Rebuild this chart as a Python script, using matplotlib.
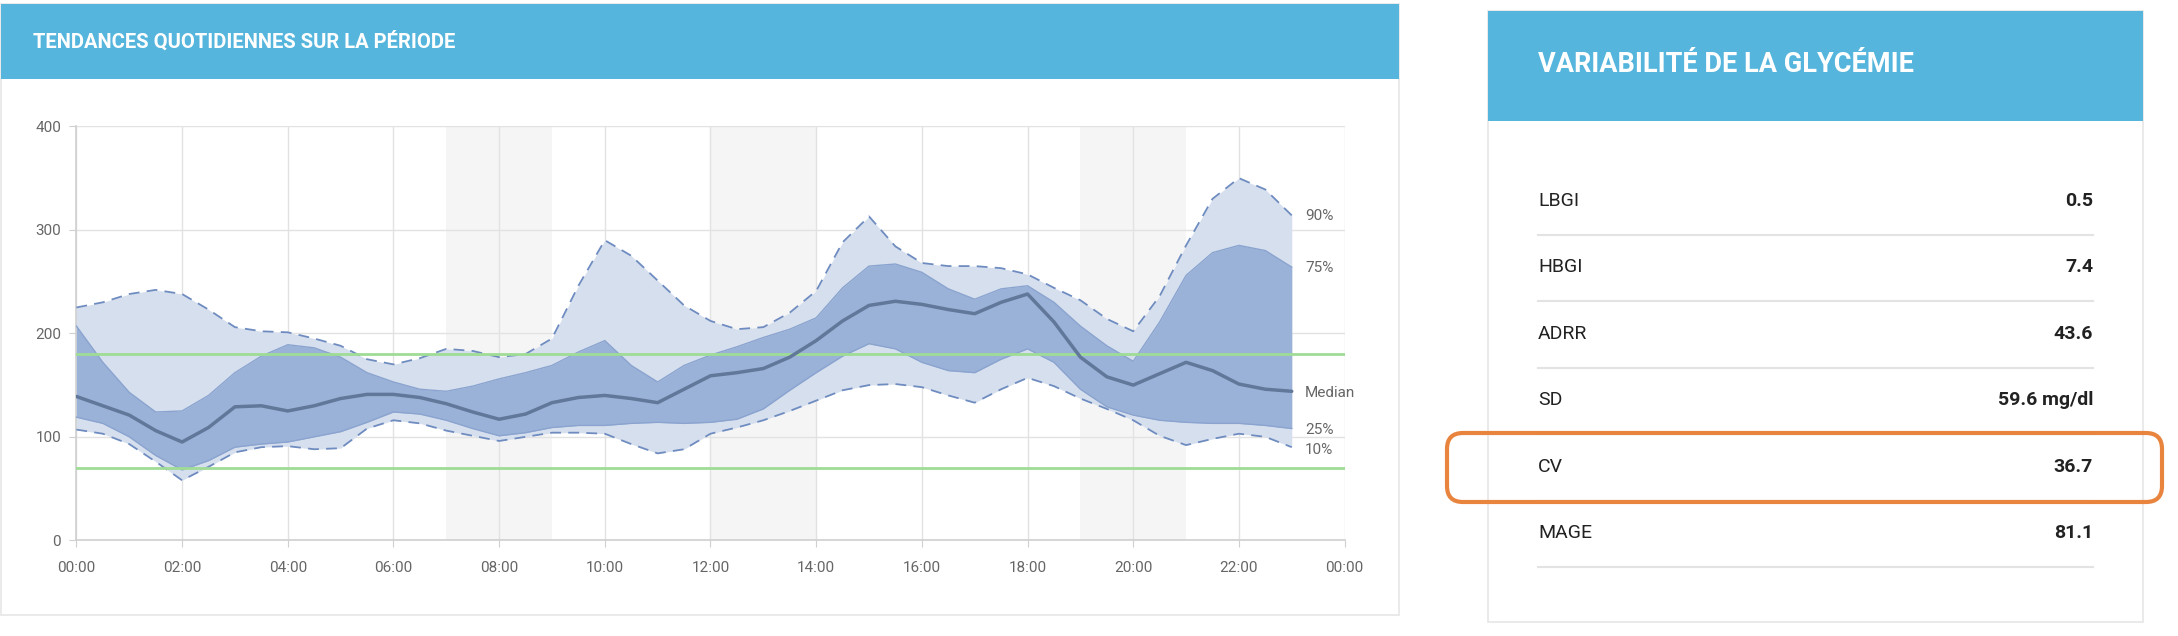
import numpy as np
import matplotlib.pyplot as plt
from matplotlib.patches import Rectangle, FancyBboxPatch

plt.rcParams['font.family'] = ['Roboto', 'DejaVu Sans']

# heures (toutes les 30 min, 00:00 -> 23:00)
heures = np.arange(0, 23.5, 0.5)

p90 = [225, 230, 238, 242, 238, 223, 206, 202, 201, 195, 188, 175, 170, 176, 185, 183,
       177, 180, 195, 246, 290, 275, 251, 227, 212, 204, 206, 220, 241, 288, 313, 284,
       268, 265, 265, 263, 257, 244, 232, 214, 202, 236, 285, 330, 350, 339, 314]
p75 = [207, 172, 143, 124, 125, 140, 162, 178, 189, 186, 177, 162, 153, 146, 144, 149,
       156, 162, 169, 182, 193, 169, 153, 169, 179, 187, 196, 204, 215, 244, 265, 267,
       259, 243, 233, 243, 246, 230, 207, 188, 173, 211, 256, 278, 285, 280, 264]
mediane = [139, 130, 121, 106, 95, 109, 129, 130, 125, 130, 137, 141, 141, 138, 132, 124,
           117, 122, 133, 138, 140, 137, 133, 146, 159, 162, 166, 177, 193, 212, 227, 231,
           228, 223, 219, 230, 238, 211, 177, 158, 150, 161, 172, 164, 151, 146, 144]
p25 = [119, 113, 100, 82, 68, 77, 90, 93, 95, 100, 105, 114, 124, 122, 116, 108,
       101, 104, 109, 111, 111, 113, 114, 113, 114, 117, 127, 145, 162, 178, 190, 185,
       172, 164, 162, 175, 185, 172, 146, 129, 121, 116, 114, 113, 113, 111, 108]
p10 = [107, 103, 93, 76, 58, 71, 85, 90, 91, 88, 89, 108, 116, 113, 106, 101,
       96, 100, 104, 104, 103, 93, 84, 88, 103, 109, 116, 125, 135, 145, 150, 151,
       148, 140, 133, 146, 157, 149, 137, 127, 116, 101, 92, 98, 103, 100, 90]

zones_grises = [(7, 9), (12, 14), (19, 21)]
cible_basse = 70
cible_haute = 180

xticks = list(range(0, 25, 2))
xlabels = ["%02d:00" % (h % 24) for h in xticks]
yticks = [0, 100, 200, 300, 400]

etiquettes = ["90%", "75%", "Median", "25%", "10%"]
etiq_y = [313, 263, 142, 107, 87]

indicateurs = ["LBGI", "HBGI", "ADRR", "SD", "CV", "MAGE"]
valeurs = ["0.5", "7.4", "43.6", "59.6 mg/dl", "36.7", "81.1"]

W, H = 2178, 636
fig = plt.figure(figsize=(W / 100, H / 100), dpi=100)

# fond en pixels
bg = fig.add_axes([0, 0, 1, 1])
bg.set_xlim(0, W)
bg.set_ylim(H, 0)
bg.axis('off')

bleu = '#55b5dc'
bord = '#e6e6e6'

# carte gauche
bg.add_patch(Rectangle((1, 4), 1398, 611, facecolor='white', edgecolor=bord, lw=1.2))
bg.add_patch(Rectangle((1, 4), 1398, 75, facecolor=bleu, edgecolor='none'))
bg.text(33, 41, "TENDANCES QUOTIDIENNES SUR LA PÉRIODE", color='white',
        fontsize=14.5, fontweight='bold', va='center', ha='left')

# carte droite
bg.add_patch(Rectangle((1488, 11), 655, 611, facecolor='white', edgecolor=bord, lw=1.2))
bg.add_patch(Rectangle((1488, 11), 655, 110, facecolor=bleu, edgecolor='none'))
bg.text(1538, 65, "VARIABILITÉ DE LA GLYCÉMIE", color='white',
        fontsize=19.5, fontweight='bold', va='center', ha='left')

y0 = 201
dy = 66.4
for i, (nom, val) in enumerate(zip(indicateurs, valeurs)):
    yy = y0 + i * dy
    bg.text(1538, yy, nom, fontsize=14, color='#222222', va='center', ha='left')
    bg.text(2093, yy, val, fontsize=14, color='#222222', fontweight='bold',
            va='center', ha='right')
    bg.plot([1538, 2093], [yy + 34, yy + 34], color='#e3e3e3', lw=1.5)

# cadre orange autour de CV
bg.add_patch(FancyBboxPatch((1447, 433), 715, 69,
                            boxstyle="round,pad=0,rounding_size=16",
                            facecolor='none', edgecolor='#e8843e', lw=3, zorder=5))

# graphique
ax = fig.add_axes([76.4 / W, 1 - 540.3 / H, 1268.2 / W, 413.9 / H])
ax.set_xlim(0, 24)
ax.set_ylim(0, 400)

for a, b in zones_grises:
    ax.axvspan(a, b, color='#f5f5f5', zorder=0, lw=0)

ax.set_xticks(xticks)
ax.set_xticklabels(xlabels)
ax.set_yticks(yticks)
ax.grid(True, color='#e2e2e2', lw=1, zorder=1)
ax.set_axisbelow(True)
for s in ['top', 'right']:
    ax.spines[s].set_visible(False)
for s in ['left', 'bottom']:
    ax.spines[s].set_color('#cfcfcf')
    ax.spines[s].set_linewidth(1.2)
ax.tick_params(colors='#cfcfcf', labelcolor='#666666', labelsize=11, length=5)
ax.tick_params(axis='x', pad=10)
ax.tick_params(axis='y', pad=6)

ax.fill_between(heures, p10, p90, color='#d6dfee', lw=0, zorder=2)
ax.fill_between(heures, p25, p75, color='#9bb2d8', lw=0, zorder=3)
ax.plot(heures, p75, color='#8aa4cf', lw=1, zorder=3)
ax.plot(heures, p25, color='#8aa4cf', lw=1, zorder=3)
ax.plot(heures, p90, color='#6f8cc0', lw=1.3, ls=(0, (6, 4)), zorder=4)
ax.plot(heures, p10, color='#6f8cc0', lw=1.3, ls=(0, (6, 4)), zorder=4)
ax.plot(heures, mediane, color='#62789a', lw=2.5, zorder=5,
        solid_joinstyle='round', solid_capstyle='round')

ax.axhline(cible_haute, color='#9fdc95', lw=2, zorder=4)
ax.axhline(cible_basse, color='#9fdc95', lw=2, zorder=4)

for t, v in zip(etiquettes, etiq_y):
    ax.text(23.25, v, t, fontsize=11, color='#666666', va='center', ha='left')

fig.savefig('out.png', dpi=100)
